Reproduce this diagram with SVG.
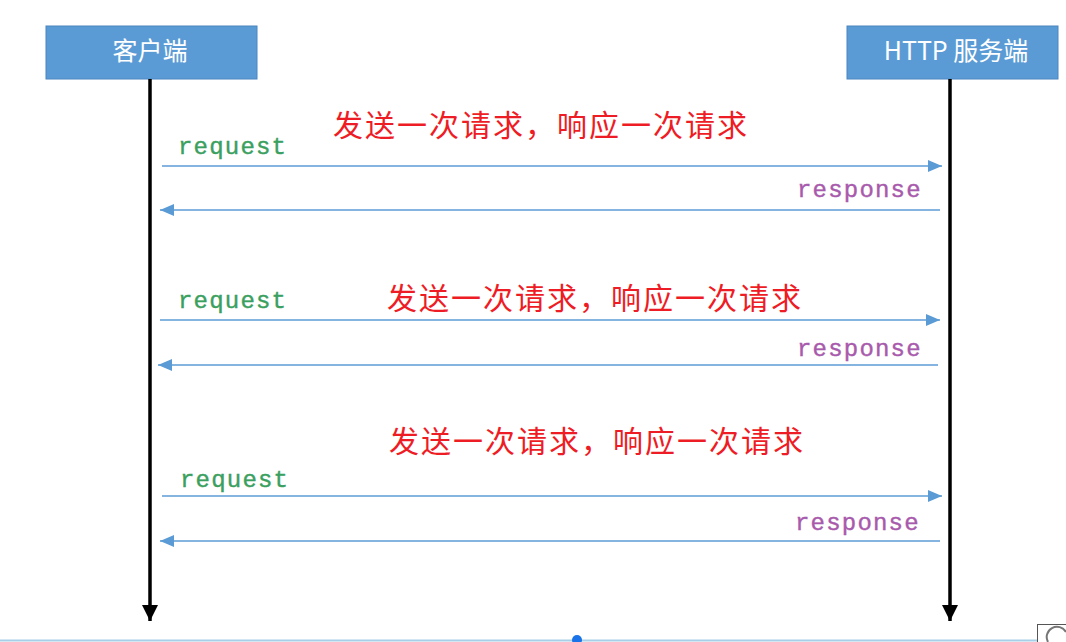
<svg xmlns="http://www.w3.org/2000/svg" width="1066" height="642" viewBox="0 0 1066 642">
<style>
.box{fill:#5b9bd5;stroke:#4a86c0;stroke-width:1}
.boxt{font-family:"Noto Sans CJK SC","Liberation Sans",sans-serif;font-size:25px;fill:#ffffff;text-anchor:middle}
.life{stroke:#000;stroke-width:3.5;fill:none}
.msg{stroke:#5b9bd5;stroke-width:1.6;fill:none}
.req{font-family:"Liberation Mono","Courier New",monospace;font-size:24px;fill:#3aa060;letter-spacing:1.2px;stroke:#3aa060;stroke-width:0.4}
.resp{font-family:"Liberation Mono","Courier New",monospace;font-size:24px;fill:#a85aac;letter-spacing:1.2px;stroke:#a85aac;stroke-width:0.4}
.note{font-family:"Noto Sans CJK SC","Liberation Sans",sans-serif;font-size:30px;fill:#ee1c25;letter-spacing:2px}
</style>
<defs>
<marker id="ab" viewBox="0 0 14 12" refX="14" refY="6" markerWidth="14" markerHeight="12" markerUnits="userSpaceOnUse" orient="auto">
<path d="M0,0 L14,6 L0,12 Z" fill="#5b9bd5"/>
</marker>
<marker id="al" viewBox="0 0 16 16" refX="16" refY="8" markerWidth="16" markerHeight="16" markerUnits="userSpaceOnUse" orient="auto">
<path d="M0,0 L16,8 L0,16 Z" fill="#000"/>
</marker>
</defs>
<rect width="1066" height="642" fill="#ffffff"/>
<g id="client">
<rect class="box" x="46" y="26" width="211" height="53"/>
<text class="boxt" x="150" y="60">客户端</text>
</g>
<g id="server">
<rect class="box" x="847" y="26" width="211" height="53"/>
<text class="boxt" x="956" y="60">HTTP 服务端</text>
</g>
<g id="connectors">
<line class="life" x1="150" y1="79" x2="150" y2="621" marker-end="url(#al)"/>
<line class="life" x1="950" y1="79" x2="950" y2="621" marker-end="url(#al)"/>
<line class="msg" x1="162" y1="166" x2="942" y2="166" marker-end="url(#ab)"/>
<line class="msg" x1="940" y1="210" x2="160" y2="210" marker-end="url(#ab)"/>
<line class="msg" x1="160" y1="320" x2="940" y2="320" marker-end="url(#ab)"/>
<line class="msg" x1="938" y1="365" x2="158" y2="365" marker-end="url(#ab)"/>
<line class="msg" x1="162" y1="496" x2="942" y2="496" marker-end="url(#ab)"/>
<line class="msg" x1="940" y1="541" x2="160" y2="541" marker-end="url(#ab)"/>
</g>
<g id="labels">
<text class="req" x="178" y="154">request</text>
<text class="resp" x="797" y="197">response</text>
<text class="req" x="178" y="308">request</text>
<text class="resp" x="797" y="356">response</text>
<text class="req" x="180" y="487">request</text>
<text class="resp" x="795" y="530">response</text>
</g>
<g id="notes">
<text class="note" x="333" y="136">发送一次请求，响应一次请求</text>
<text class="note" x="387" y="309">发送一次请求，响应一次请求</text>
<text class="note" x="389" y="452">发送一次请求，响应一次请求</text>
</g>
<g id="footer">
<line x1="0" y1="640.5" x2="1066" y2="640.5" stroke="#a8cfe8" stroke-width="2"/>
<circle cx="577" cy="640" r="5" fill="#1a73e8"/>
<rect x="1037.5" y="624.5" width="30" height="20" fill="#ffffff" stroke="#555" stroke-width="1"/>
<path d="M1048,642 A10,10 0 0 1 1066,632" fill="none" stroke="#777" stroke-width="2"/>
</g>
</svg>
